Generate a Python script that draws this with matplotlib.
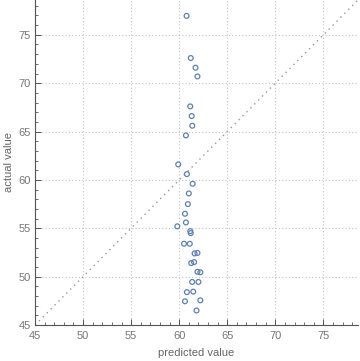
import matplotlib
matplotlib.use("Agg")
import matplotlib.pyplot as plt
from matplotlib.ticker import MultipleLocator

predicted = [60.77, 61.2, 61.7, 61.9, 61.15, 61.3, 61.36, 60.7, 59.9, 60.8, 61.4, 61.0,
             60.9, 60.6, 60.7, 59.8, 61.15, 61.2, 60.5, 61.1, 61.6, 61.9, 61.25, 61.55,
             61.9, 62.2, 61.35, 62.0, 60.8, 61.46, 62.2, 60.6, 61.8]
actual = [76.96, 72.6, 71.6, 70.7, 67.6, 66.6, 65.6, 64.6, 61.6, 60.6, 59.6, 58.6,
          57.5, 56.5, 55.6, 55.2, 54.7, 54.5, 53.4, 53.4, 52.4, 52.45, 51.4, 51.5,
          50.5, 50.45, 49.45, 49.45, 48.4, 48.45, 47.55, 47.45, 46.5]
ticks = [45, 50, 55, 60, 65, 70, 75]
xlabel = "predicted value"
ylabel = "actual value"

plt.rcParams['font.family'] = ['Liberation Sans', 'DejaVu Sans']
fig = plt.figure(figsize=(3.6, 3.61), dpi=100)
ax = fig.add_axes([35/360, 36/361, 323/360, 325/361])
ax.set_xlim(45, 78.6)
ax.set_ylim(45, 78.6)

gray = '#555555'
ax.plot([45, 78.6], [45, 78.6], linestyle=(0, (1, 3)), color='#999999', lw=1.0, zorder=1)
ax.scatter(predicted, actual, s=12, facecolors='none', edgecolors='#5E81B5', linewidths=0.9, zorder=3)

ax.set_xticks(ticks)
ax.set_yticks(ticks)
ax.xaxis.set_minor_locator(MultipleLocator(1))
ax.yaxis.set_minor_locator(MultipleLocator(1))
ax.grid(True, which='major', linestyle=(0, (1, 2)), color='#c4c4c4', lw=0.8)
ax.tick_params(which='both', direction='in', colors=gray, labelcolor='#777777', labelsize=8)
ax.tick_params(which='major', length=4, width=0.7)
ax.tick_params(which='minor', length=2, width=0.6)
ax.tick_params(axis='x', pad=4)
ax.tick_params(axis='y', pad=3)
for s in ['top', 'right']:
    ax.spines[s].set_visible(False)
for s in ['left', 'bottom']:
    ax.spines[s].set_color(gray)
    ax.spines[s].set_linewidth(0.8)
ax.set_xlabel(xlabel, color='#666666', fontsize=8, labelpad=5)
ax.set_ylabel(ylabel, color='#666666', fontsize=8, labelpad=3)
ax.set_axisbelow(True)
fig.savefig("out.png", dpi=100)
